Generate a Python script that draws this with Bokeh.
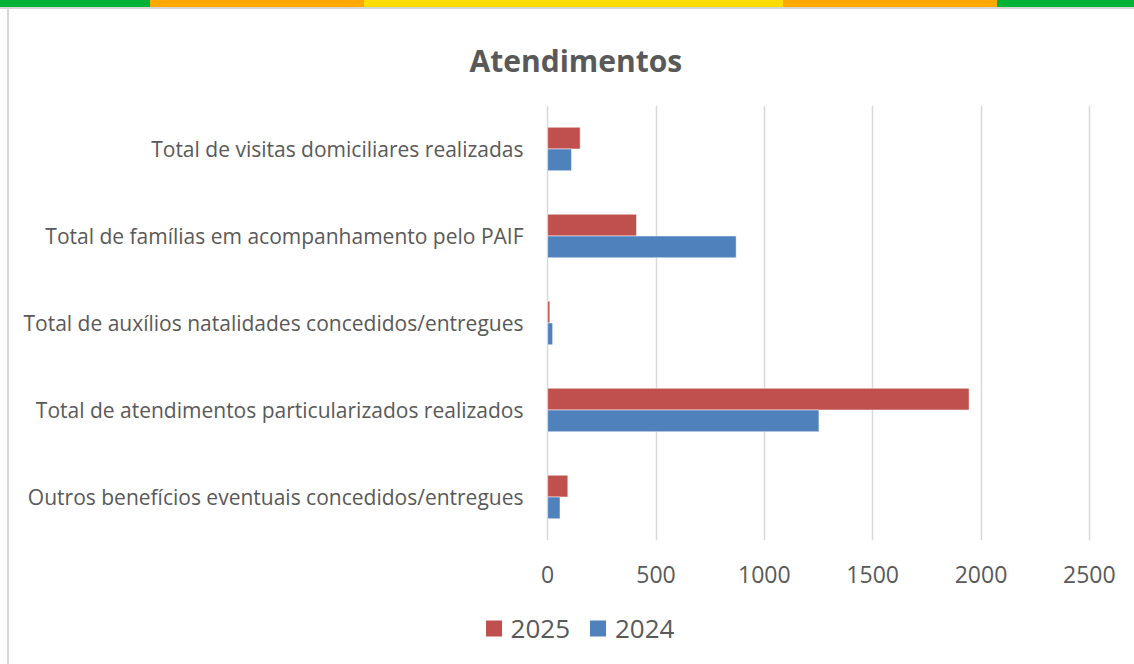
from bokeh.plotting import figure
from bokeh.models import (ColumnDataSource, FixedTicker, Legend, LegendItem, Title,
                          Range1d, Div, Spacer)
from bokeh.layouts import column, row
from bokeh.embed import file_html
from bokeh.resources import INLINE

categories = [
    "Outros benefícios eventuais concedidos/entregues",
    "Total de atendimentos particularizados realizados",
    "Total de auxílios natalidades concedidos/entregues",
    "Total de famílias em acompanhamento pelo PAIF",
    "Total de visitas domiciliares realizadas",
]
values_2025 = [93, 1945, 10, 410, 150]
values_2024 = [57, 1252, 23, 870, 110]
series_labels = ["2025", "2024"]
x_ticks = [0, 500, 1000, 1500, 2000, 2500]
title_text = "Atendimentos"

RED = "#C0504D"
BLUE = "#4F81BD"
TXT = "#595959"
FONT = "Open Sans"
GRAY = "#d6d6d6"

ypos = list(range(len(categories)))
src = ColumnDataSource(dict(
    y25=[y + 0.125 for y in ypos],
    y24=[y - 0.125 for y in ypos],
    v25=values_2025,
    v24=values_2024,
))

# top coloured stripe with grey border line below it
stripe = Div(text="", width=1134, height=9, margin=0, styles={
    "background": "linear-gradient(to bottom, rgba(0,0,0,0) 0px 7px, " + GRAY + " 7px 9px), "
                  "linear-gradient(to right, #00B336 0px 150px, #FFA800 150px 364px, "
                  "#FFDD00 364px 783px, #FFA800 783px 997px, #00B336 997px 1134px)",
})
# left grey border line
vline = Div(text="", width=2, height=655, margin=(0, 0, 0, 7),
            styles={"background": GRAY})

p = figure(width=1125, height=591, output_backend="svg", toolbar_location=None,
           x_range=Range1d(-10, 2510), y_range=Range1d(-0.5, 4.5),
           min_border_left=536, min_border_right=43, min_border_top=96,
           min_border_bottom=60, margin=0)
p.outline_line_color = None
p.background_fill_color = "white"
p.border_fill_color = "white"

r25 = p.hbar(y="y25", right="v25", left=0, height=0.25, source=src,
             fill_color=RED, line_color="white", line_alpha=0.5, line_width=1)
r24 = p.hbar(y="y24", right="v24", left=0, height=0.25, source=src,
             fill_color=BLUE, line_color="white", line_alpha=0.5, line_width=1)

# x axis
p.xaxis.ticker = FixedTicker(ticks=x_ticks)
p.xaxis.axis_line_color = None
p.xaxis.major_tick_line_color = None
p.xaxis.minor_tick_line_color = None
p.xaxis.major_label_standoff = 19
p.xaxis.major_label_text_font = FONT
p.xaxis.major_label_text_font_size = "23px"
p.xaxis.major_label_text_color = TXT

# y axis
p.yaxis.ticker = FixedTicker(ticks=ypos)
p.yaxis.major_label_overrides = {i: c for i, c in zip(ypos, categories)}
p.yaxis.axis_line_color = None
p.yaxis.major_tick_line_color = None
p.yaxis.minor_tick_line_color = None
p.yaxis.major_label_standoff = 16
p.yaxis.major_label_text_font = FONT
p.yaxis.major_label_text_font_size = "21px"
p.yaxis.major_label_text_color = TXT

p.xgrid.grid_line_color = "#d9d9d9"
p.xgrid.grid_line_width = 1.5
p.ygrid.grid_line_color = None

p.add_layout(Title(text=title_text, align="left", offset=-76, standoff=49,
                   text_font=FONT, text_font_size="30px", text_font_style="bold",
                   text_color=TXT), "above")

# legend strip (separate small canvas so the legend can sit under the axis);
# its renderers share the data but lie outside this canvas' visible range
pl = figure(width=200, height=56, output_backend="svg", toolbar_location=None,
            x_range=Range1d(0, 1), y_range=Range1d(100, 101),
            x_axis_location=None, y_axis_location=None,
            min_border=0, margin=0)
pl.outline_line_color = None
pl.xgrid.grid_line_color = None
pl.ygrid.grid_line_color = None
lr25 = pl.hbar(y="y25", right="v25", left=0, height=0.25, source=src,
               fill_color=RED, line_color=None)
lr24 = pl.hbar(y="y24", right="v24", left=0, height=0.25, source=src,
               fill_color=BLUE, line_color=None)
legend = Legend(items=[LegendItem(label=series_labels[0], renderers=[lr25]),
                       LegendItem(label=series_labels[1], renderers=[lr24])],
                orientation="horizontal", location="center",
                label_text_font=FONT, label_text_font_size="26px",
                label_text_color=TXT, glyph_width=20, glyph_height=20,
                label_standoff=7, spacing=18, border_line_color=None,
                background_fill_alpha=0, padding=0, margin=0)
pl.add_layout(legend, "center")

legend_row = row(Spacer(width=470, height=56, margin=0), pl, spacing=0, margin=0)
layout = column(stripe,
                row(vline, column(p, legend_row, spacing=0, margin=0), spacing=0, margin=0),
                spacing=0, margin=0)
open("out.html", "w").write(file_html(layout, INLINE))
